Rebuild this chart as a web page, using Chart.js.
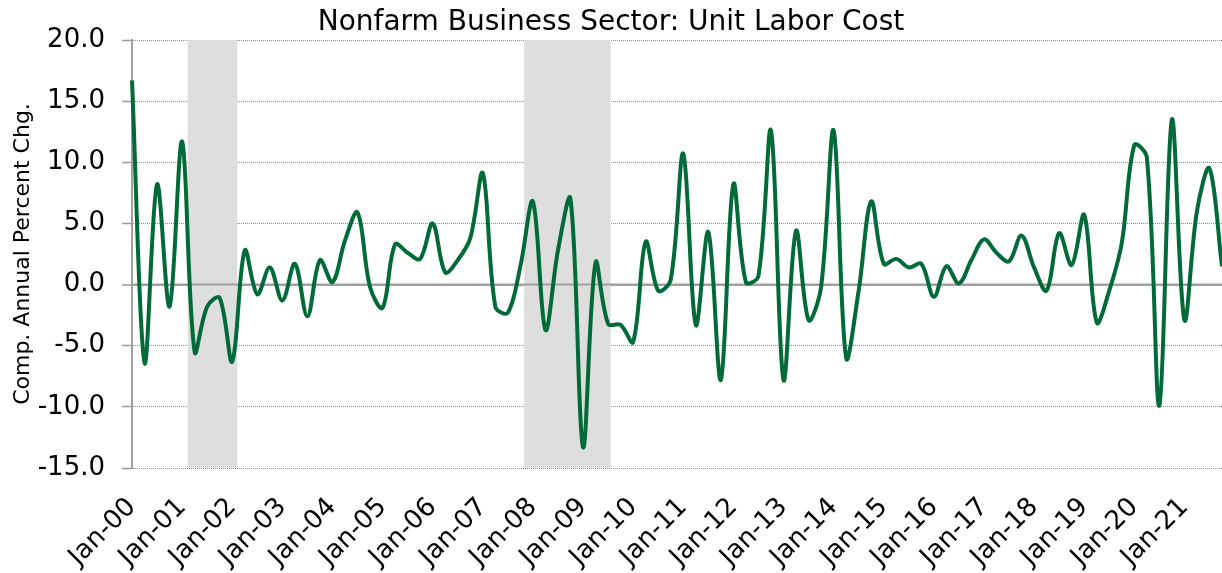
<!DOCTYPE html>
<html>
<head>
<meta charset="utf-8">
<script src="https://cdn.jsdelivr.net/npm/chart.js@4.4.1/dist/chart.umd.min.js"></script>
<style>
	html, body { margin: 0; padding: 0; background: #fff; }
	#wrap { width: 1222px; height: 573px; }
</style>
</head>
<body>
<div id="wrap"><canvas id="ulcChart"></canvas></div>
<script>
// year labels shown on the x axis (one per January)
var yearLabels = ['Jan-00','Jan-01','Jan-02','Jan-03','Jan-04','Jan-05','Jan-06','Jan-07','Jan-08','Jan-09','Jan-10',
	'Jan-11','Jan-12','Jan-13','Jan-14','Jan-15','Jan-16','Jan-17','Jan-18','Jan-19','Jan-20','Jan-21']
var quarterMonths = ['Jan','Apr','Jul','Oct']

// unit labor cost, comp. annual % chg, quarterly Q1 2000 - Q4 2021
var ulcValues = [
	16.7, -6.4, 8.2, -1.8,
	11.7, -5.5, -1.8, -1.1,
	-6.3, 2.8, -0.8, 1.4,
	-1.3, 1.7, -2.6, 2.0,
	0.2, 3.6, 5.9, -0.2,
	-1.9, 3.3, 2.6, 2.1,
	5.0, 1.0, 2.0, 3.8,
	9.1, -1.8, -2.3, 1.5,
	6.8, -3.7, 2.8, 7.0,
	-13.3, 1.8, -3.2, -3.3,
	-4.7, 3.5, -0.5, 0.4,
	10.7, -3.3, 4.3, -7.8,
	8.2, 0.2, 0.7, 12.6,
	-7.8, 4.4, -2.9, -0.2,
	12.6, -6.0, -0.5, 6.8,
	1.7, 2.1, 1.4, 1.7,
	-1.0, 1.5, 0.1, 2.0,
	3.7, 2.6, 1.9, 4.0,
	1.4, -0.5, 4.2, 1.6,
	5.7, -3.1, -0.5, 3.4,
	11.4, 10.4, -9.9, 13.5,
	-2.9, 6.0, 9.5, 1.5
]

// recession bands, in quarter index units
var recessionStart = [4.45, 31.3]
var recessionEnd = [8.4, 38.2]

var yTicks = [-15, -10, -5, 0, 5, 10, 15, 20]

var quarterLabels = []
yearLabels.forEach(function(y){
	var yy = y.split('-')[1]
	quarterMonths.forEach(function(m){ quarterLabels.push(m + '-' + yy) })
})

var recessionShade = {
	id: 'recessionShade',
	beforeDatasetsDraw: function(chart){
		var ctx = chart.ctx
		var area = chart.chartArea
		var xs = chart.scales.x
		ctx.save()
		ctx.fillStyle = '#dedede'
		for(var i = 0; i < recessionStart.length; i++){
			var x0 = xs.getPixelForValue(recessionStart[i])
			var x1 = xs.getPixelForValue(recessionEnd[i])
			ctx.fillRect(x0, area.top, x1 - x0, area.bottom - area.top)
		}
		// zero axis line over the shading
		var yz = chart.scales.y.getPixelForValue(0)
		ctx.strokeStyle = '#a0a0a0'
		ctx.lineWidth = 2
		ctx.beginPath()
		ctx.moveTo(area.left, yz)
		ctx.lineTo(area.right, yz)
		ctx.stroke()
		ctx.restore()
	}
}

var fontName = "'DejaVu Sans', Verdana, sans-serif"

new Chart(document.getElementById('ulcChart'), {
	type: 'line',
	data: {
		labels: quarterLabels,
		datasets: [{
			label: 'Unit Labor Cost',
			data: ulcValues,
			borderColor: '#006b38',
			borderWidth: 4,
			pointRadius: 0,
			tension: 0.35,
			fill: false
		}]
	},
	options: {
		responsive: true,
		maintainAspectRatio: false,
		animation: false,
		layout: { padding: { left: 0, right: 0, top: 0, bottom: 0 } },
		plugins: {
			legend: { display: false },
			tooltip: { enabled: false },
			title: {
				display: true,
				text: 'Nonfarm Business Sector: Unit Labor Cost',
				color: '#000',
				font: { family: fontName, size: 28, weight: 'normal' },
				padding: { top: 5.5, bottom: 0.9 }
			}
		},
		scales: {
			x: {
				type: 'category',
				offset: false,
				grid: { display: false, drawTicks: false },
				border: { display: false },
				ticks: {
					autoSkip: false,
					maxRotation: 45,
					minRotation: 45,
					padding: 24,
					color: '#000',
					font: { family: fontName, size: 26 },
					callback: function(val, i){
						return i % 4 === 0 ? yearLabels[i / 4] : ''
					}
				},
				afterFit: function(s){
					s.height = 105
					s.paddingLeft = 0
					s.paddingRight = 0
				}
			},
			y: {
				min: -15,
				max: 20,
				afterBuildTicks: function(s){
					s.ticks = yTicks.map(function(v){ return { value: v } })
				},
				grid: {
					color: function(c){ return c.tick && c.tick.value === 0 ? '#a0a0a0' : '#8c8c8c' },
					lineWidth: function(c){ return c.tick && c.tick.value === 0 ? 2 : 1 },
					tickLength: 10,
					tickColor: '#9a9a9a',
					tickBorderDash: [],
					tickWidth: 1.5
				},
				border: {
					display: true,
					color: '#a0a0a0',
					width: 2,
					dash: function(c){ return c.tick && c.tick.value === 0 ? [] : [1, 1] }
				},
				ticks: {
					padding: 17,
					color: '#000',
					font: { family: fontName, size: 26 },
					callback: function(v){ return Number(v).toFixed(1) }
				},
				title: {
					display: true,
					text: 'Comp. Annual Percent Chg.',
					color: '#000',
					font: { family: fontName, size: 22 },
					padding: { top: 10, bottom: 0 }
				},
				afterFit: function(s){
					s.width = 132
				}
			}
		}
	},
	plugins: [recessionShade]
})
</script>
</body>
</html>
